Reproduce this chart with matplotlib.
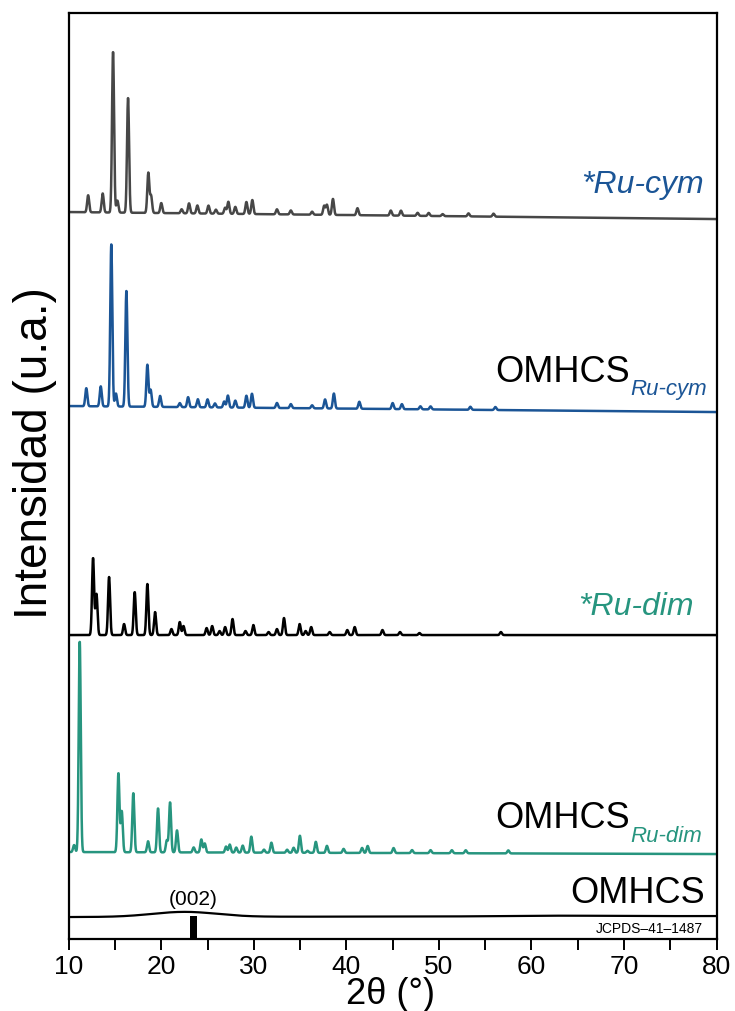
import numpy as np
import matplotlib.pyplot as plt
from matplotlib.ticker import MultipleLocator

plt.rcParams['font.family'] = ['Liberation Sans', 'DejaVu Sans']

# eje 2theta
two_theta = np.linspace(10, 80, 3501)

# *Ru-cym (gris): posiciones (grados) y alturas (u.a.)
rucym_pos = [12.1, 13.67, 14.79, 15.26, 16.41, 18.6, 18.9, 20.0, 22.2, 23.0, 23.9, 25.1,
             25.9, 26.9, 27.25, 28.0, 29.2, 29.84, 32.5, 34.0, 36.3, 37.6, 37.9, 38.55,
             41.2, 44.8, 45.9, 47.7, 48.9, 50.4, 53.2, 55.9]
rucym_h = [17, 19, 161, 12, 115, 40, 17, 10, 4, 10, 8, 8,
           4, 6, 12, 7, 12, 14, 5, 4, 3, 9, 10, 16,
           7, 5, 5, 3, 3, 2, 3, 3]
rucym_base = [727, 720]

# OMHCS Ru-cym (azul)
omhcs_cym_pos = [11.9, 13.46, 14.6, 15.1, 16.23, 18.5, 18.85, 19.87, 22.0, 22.9, 23.95, 25.0,
                 25.8, 26.8, 27.2, 28.0, 29.2, 29.8, 32.5, 34.0, 36.3, 37.7, 38.65, 41.4,
                 45.0, 46.0, 48.0, 49.1, 53.4, 56.1]
omhcs_cym_h = [18, 20, 162, 13, 116, 42, 17, 11, 4, 10, 8, 8,
               4, 6, 12, 7, 12, 14, 5, 4, 3, 9, 15, 7,
               6, 5, 3, 3, 3, 3]
omhcs_cym_base = [533, 527]

# *Ru-dim (negro)
rudim_pos = [12.63, 13.0, 14.36, 15.98, 17.13, 18.5, 19.33, 21.1, 22.0, 22.4, 24.9, 25.5,
             26.3, 26.9, 27.7, 29.1, 29.95, 31.6, 32.5, 33.26, 34.95, 35.6, 36.2, 38.2,
             40.1, 40.9, 43.9, 45.8, 47.9, 56.7]
rudim_h = [77, 41, 58, 11, 43, 51, 23, 6, 13, 9, 7, 9,
           4, 8, 16, 4, 10, 3, 6, 17, 11, 4, 8, 3,
           5, 8, 5, 3, 2, 3]
rudim_base = [304, 304]

# OMHCS Ru-dim (verde)
omhcs_dim_pos = [10.58, 11.19, 15.37, 15.73, 16.98, 18.57, 19.65, 20.6, 20.95, 21.7, 23.5, 24.33,
                 24.7, 27.0, 27.4, 28.1, 28.8, 29.73, 31.1, 31.9, 33.6, 34.3, 34.98, 35.8,
                 36.7, 37.9, 39.7, 41.7, 42.3, 45.1, 47.1, 49.1, 51.4, 52.9, 57.5]
omhcs_dim_h = [7, 211, 79, 41, 59, 11, 44, 12, 50, 22, 5, 13,
               9, 6, 8, 5, 7, 16, 3, 10, 3, 5, 17, 2,
               11, 7, 4, 5, 7, 5, 3, 3, 3, 3, 3]
omhcs_dim_base = [87, 85]

# OMHCS (carbono, bandas anchas)
omhcs_pos = [22.5, 63.0]
omhcs_h = [5, 0.6]
omhcs_w = [3.5, 5.0]
omhcs_base = [22, 23]

# JCPDS-41-1487
jcpds_pos = [23.5]
jcpds_h = [23]

xticks = [10, 20, 30, 40, 50, 60, 70, 80]


def pattern(pos, h, base, sigma):
    y = np.interp(two_theta, [10, 80], base)
    sig = np.broadcast_to(sigma, len(pos))
    for p, a, s in zip(pos, h, sig):
        y = y + a * np.exp(-0.5 * ((two_theta - p) / s) ** 2)
    return y


gray = '#474747'
blue = '#1b5596'
teal = '#27957f'

fig = plt.figure(figsize=(7.35, 10.12), dpi=100)
ax = fig.add_axes([0.0935, 0.0711, 0.8814, 0.915])

ax.plot(two_theta, pattern(rucym_pos, rucym_h, rucym_base, 0.11), color=gray, lw=1.8)
ax.plot(two_theta, pattern(omhcs_cym_pos, omhcs_cym_h, omhcs_cym_base, 0.11), color=blue, lw=1.8)
ax.plot(two_theta, pattern(rudim_pos, rudim_h, rudim_base, 0.11), color='black', lw=1.8)
ax.plot(two_theta, pattern(omhcs_dim_pos, omhcs_dim_h, omhcs_dim_base, 0.11), color=teal, lw=1.8)
ax.plot(two_theta, pattern(omhcs_pos, omhcs_h, omhcs_base, omhcs_w), color='black', lw=1.6)
ax.bar(jcpds_pos, jcpds_h, width=0.72, color='black')

# etiquetas
ax.text(78.6, 747, '*Ru-cym', color=blue, fontsize=23, style='italic', ha='right', va='baseline')
ax.text(70.6, 558, 'OMHCS', color='black', fontsize=26, ha='right', va='baseline')
ax.text(70.7, 545, 'Ru-cym', color=blue, fontsize=16, style='italic', ha='left', va='baseline')
ax.text(77.5, 325, '*Ru-dim', color=teal, fontsize=23, style='italic', ha='right', va='baseline')
ax.text(70.6, 112, 'OMHCS', color='black', fontsize=26, ha='right', va='baseline')
ax.text(70.7, 98, 'Ru-dim', color=teal, fontsize=16, style='italic', ha='left', va='baseline')
ax.text(78.7, 37, 'OMHCS', color='black', fontsize=26, ha='right', va='baseline')
ax.text(78.5, 7, 'JCPDS\u201341\u20131487', color='black', fontsize=10, ha='right', va='baseline')
ax.text(23.5, 35, '(002)', color='black', fontsize=15, ha='center', va='baseline')

ax.set_xlim(10, 80)
ax.set_ylim(0, 926)
ax.set_xticks(xticks)
ax.xaxis.set_minor_locator(MultipleLocator(5))
ax.set_yticks([])
ax.tick_params(axis='x', which='both', direction='out', length=8, width=1.4,
               labelsize=19, pad=3)
for s in ax.spines.values():
    s.set_linewidth(1.6)

fig.text(390 / 735, 8 / 1012, '2\u03b8 (\u00b0)', fontsize=26, ha='center', va='baseline')
fig.text(35 / 735, 1 - 453 / 1012, 'Intensidad (u.a.)', fontsize=33, rotation=90,
         ha='center', va='center')

fig.savefig('out.png', dpi=100)
